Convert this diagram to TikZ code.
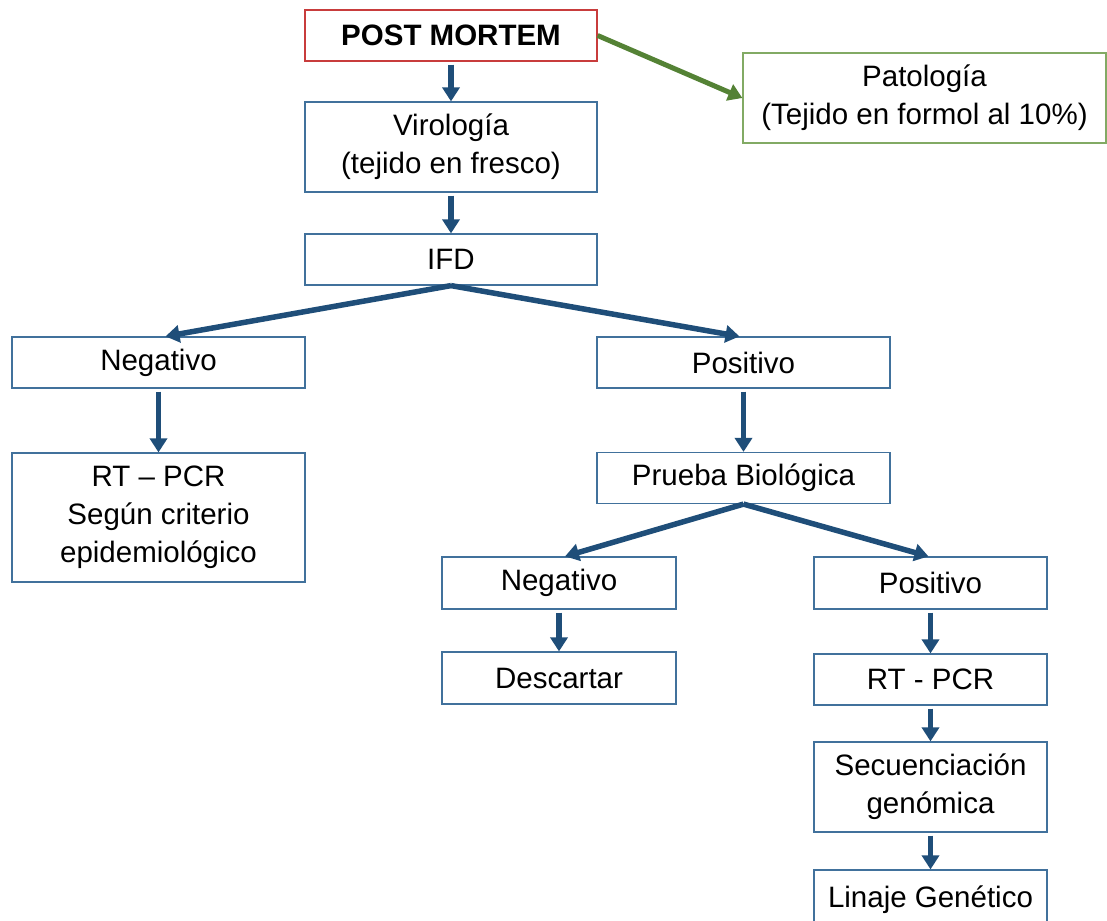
\documentclass[tikz,border=0pt]{standalone}
\usepackage{fontspec}
\setmainfont{Liberation Sans}
\usetikzlibrary{arrows.meta,calc}
\definecolor{arrblue}{RGB}{31,78,121}
\definecolor{boxblue}{RGB}{65,113,156}
\definecolor{boxred}{RGB}{200,60,60}
\definecolor{arrgreen}{RGB}{84,130,53}
\definecolor{boxgreen}{RGB}{130,170,100}
\begin{document}
\begin{tikzpicture}[x=1pt,y=-1pt,
  box/.style={draw=boxblue,line width=1.2pt,fill=white,inner sep=0pt,align=center,
    font=\fontsize{29.5}{38}\selectfont},
  arr/.style={draw=arrblue,line width=5.5pt,-{Triangle[width=17pt,length=14pt]},shorten <=3pt},
  garr/.style={draw=arrgreen,line width=5pt,-{Triangle[width=17pt,length=14pt]}}]
\useasboundingbox (0,0) rectangle (1107,920);
\node[box,draw=boxred,minimum width=292pt,minimum height=51pt,font=\fontsize{29.5}{38}\selectfont\bfseries] (pm) at (451,35.5) {POST MORTEM};
\node[box,minimum width=292pt,minimum height=90pt] (vir) at (451,147) {Virología\\(tejido en fresco)};
\node[box,minimum width=292pt,minimum height=51pt] (ifd) at (451,259.5) {IFD};
\node[box,draw=boxgreen,minimum width=363pt,minimum height=90pt] (pat) at (924.5,98) {Patología\\(Tejido en formol al 10\%)};
\node[box,minimum width=293pt,minimum height=51pt] (negL) at (158.5,362.5) {Negativo};
\node[box,minimum width=293pt,minimum height=129pt] (rtL) at (158.5,517.5) {RT -- PCR\\Según criterio\\epidemiológico};
\node[box,minimum width=293pt,minimum height=51pt] (posR) at (743.5,362.5) {Positivo};
\node[box,minimum width=293pt,minimum height=51pt] (prb) at (743.5,478) {Prueba Biológica};
\node[box,minimum width=234pt,minimum height=52pt] (neg2) at (559,583) {Negativo};
\node[box,minimum width=234pt,minimum height=52pt] (desc) at (559,678) {Descartar};
\node[box,minimum width=233pt,minimum height=52pt] (pos2) at (930.5,583) {Positivo};
\node[box,minimum width=233pt,minimum height=51pt] (rt2) at (930.5,679.5) {RT - PCR};
\node[box,minimum width=233pt,minimum height=90pt] (sec) at (930.5,787) {Secuenciación\\genómica};
\node[box,minimum width=233pt,minimum height=60pt,text depth=0pt] (lin) at (930.5,900) {\raisebox{6pt}{Linaje Genético}};
\draw[arr] (pm.south) -- (vir.north);
\draw[arr] (vir.south) -- (ifd.north);
\draw[arr,shorten <=0pt] (ifd.south) -- ([xshift=7pt]negL.north);
\draw[arr,shorten <=0pt] (ifd.south) -- ([xshift=-4pt]posR.north);
\draw[arr] (negL.south) -- (rtL.north);
\draw[arr] (posR.south) -- (prb.north);
\draw[arr,shorten <=0pt] (prb.south) -- ([xshift=6pt]neg2.north);
\draw[arr,shorten <=0pt] (prb.south) -- ([xshift=-2pt]pos2.north);
\draw[arr] (neg2.south) -- (desc.north);
\draw[arr] (pos2.south) -- (rt2.north);
\draw[arr] (rt2.south) -- (sec.north);
\draw[arr] (sec.south) -- (lin.north);
\draw[garr] (pm.east) -- (pat.west);
\end{tikzpicture}
\end{document}
